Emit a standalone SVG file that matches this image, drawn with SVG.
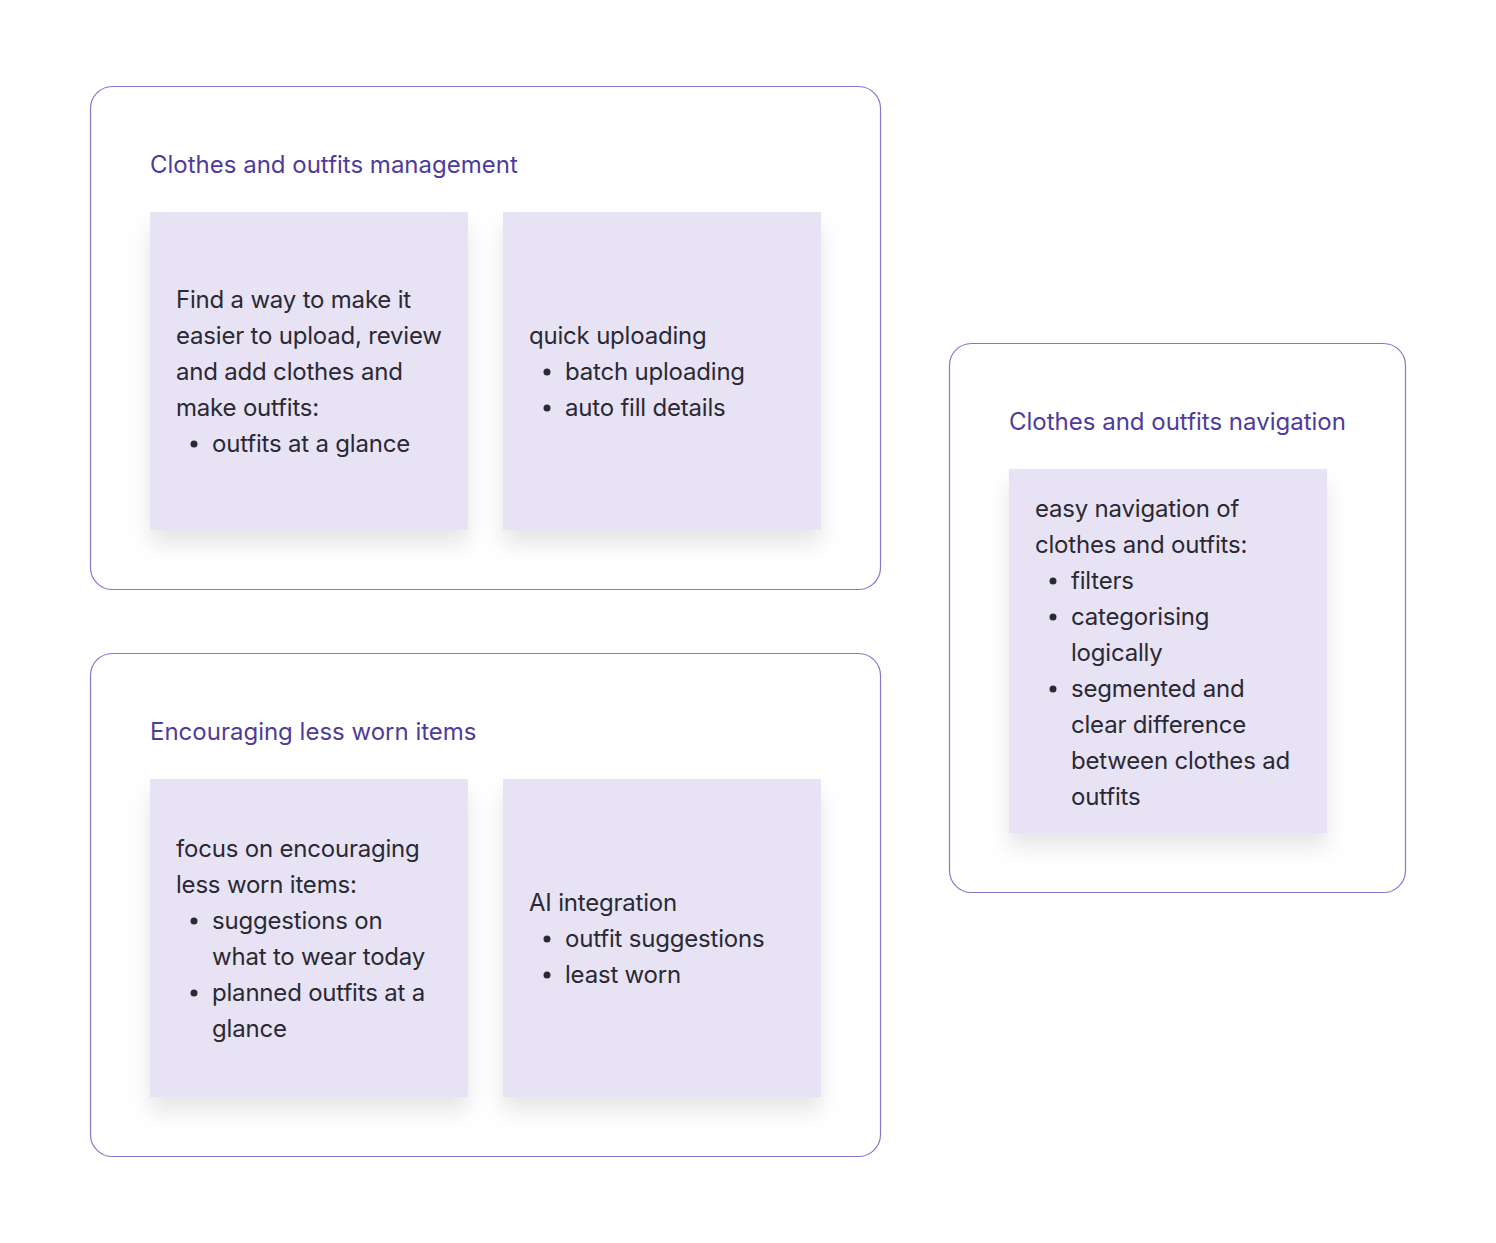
<svg xmlns="http://www.w3.org/2000/svg" width="1496" height="1243" viewBox="0 0 1496 1243">
<defs>
<filter id="sh" x="-20%" y="-20%" width="140%" height="150%">
<feDropShadow dx="0" dy="14" stdDeviation="11" flood-color="#000" flood-opacity="0.10"/>
</filter>
<style>
.frame{fill:#fff;stroke:#8b74cc;stroke-width:1.2}
.card{fill:#e7e3f5;filter:url(#sh)}
.title{font-family:Inter,"Liberation Sans",sans-serif;font-size:24px;fill:#4e3b9c}
.body{font-family:Inter,"Liberation Sans",sans-serif;font-size:24px;letter-spacing:-0.2px;fill:#2b2933}
.dot{fill:#2b2933}
</style>
</defs>
<rect width="1496" height="1243" fill="#fff"/>
<g id="frame-management">
<rect class="frame" x="90.5" y="86.5" width="790" height="503" rx="22"/>
<text class="title" x="150" y="173">Clothes and outfits management</text>
</g>
<g id="card-upload">
<rect class="card" x="150" y="212" width="318" height="318"/>
<text class="body" x="176" y="308">Find a way to make it</text>
<text class="body" x="176" y="344">easier to upload, review</text>
<text class="body" x="176" y="380">and add clothes and</text>
<text class="body" x="176" y="416">make outfits:</text>
<circle class="dot" cx="194" cy="444" r="3.5"/>
<text class="body" x="212" y="452">outfits at a glance</text>
</g>
<g id="card-quick">
<rect class="card" x="503" y="212" width="318" height="318"/>
<text class="body" x="529" y="344">quick uploading</text>
<circle class="dot" cx="547" cy="372" r="3.5"/>
<text class="body" x="565" y="380">batch uploading</text>
<circle class="dot" cx="547" cy="408" r="3.5"/>
<text class="body" x="565" y="416">auto fill details</text>
</g>
<g id="frame-encouraging">
<rect class="frame" x="90.5" y="653.5" width="790" height="503" rx="22"/>
<text class="title" x="150" y="740">Encouraging less worn items</text>
</g>
<g id="card-focus">
<rect class="card" x="150" y="779" width="318" height="318"/>
<text class="body" x="176" y="857">focus on encouraging</text>
<text class="body" x="176" y="893">less worn items:</text>
<circle class="dot" cx="194" cy="921" r="3.5"/>
<text class="body" x="212" y="929">suggestions on</text>
<text class="body" x="212" y="965">what to wear today</text>
<circle class="dot" cx="194" cy="993" r="3.5"/>
<text class="body" x="212" y="1001">planned outfits at a</text>
<text class="body" x="212" y="1037">glance</text>
</g>
<g id="card-ai">
<rect class="card" x="503" y="779" width="318" height="318"/>
<text class="body" x="529" y="911">AI integration</text>
<circle class="dot" cx="547" cy="939" r="3.5"/>
<text class="body" x="565" y="947">outfit suggestions</text>
<circle class="dot" cx="547" cy="975" r="3.5"/>
<text class="body" x="565" y="983">least worn</text>
</g>
<g id="frame-navigation">
<rect class="frame" x="949.5" y="343.5" width="456" height="549" rx="22"/>
<text class="title" x="1009" y="430">Clothes and outfits navigation</text>
</g>
<g id="card-navigation">
<rect class="card" x="1009" y="469" width="318" height="364"/>
<text class="body" x="1035" y="517">easy navigation of</text>
<text class="body" x="1035" y="553">clothes and outfits:</text>
<circle class="dot" cx="1053" cy="581" r="3.5"/>
<text class="body" x="1071" y="589">filters</text>
<circle class="dot" cx="1053" cy="617" r="3.5"/>
<text class="body" x="1071" y="625">categorising</text>
<text class="body" x="1071" y="661">logically</text>
<circle class="dot" cx="1053" cy="689" r="3.5"/>
<text class="body" x="1071" y="697">segmented and</text>
<text class="body" x="1071" y="733">clear difference</text>
<text class="body" x="1071" y="769">between clothes ad</text>
<text class="body" x="1071" y="805">outfits</text>
</g>
<g id="connectors"></g>
</svg>
